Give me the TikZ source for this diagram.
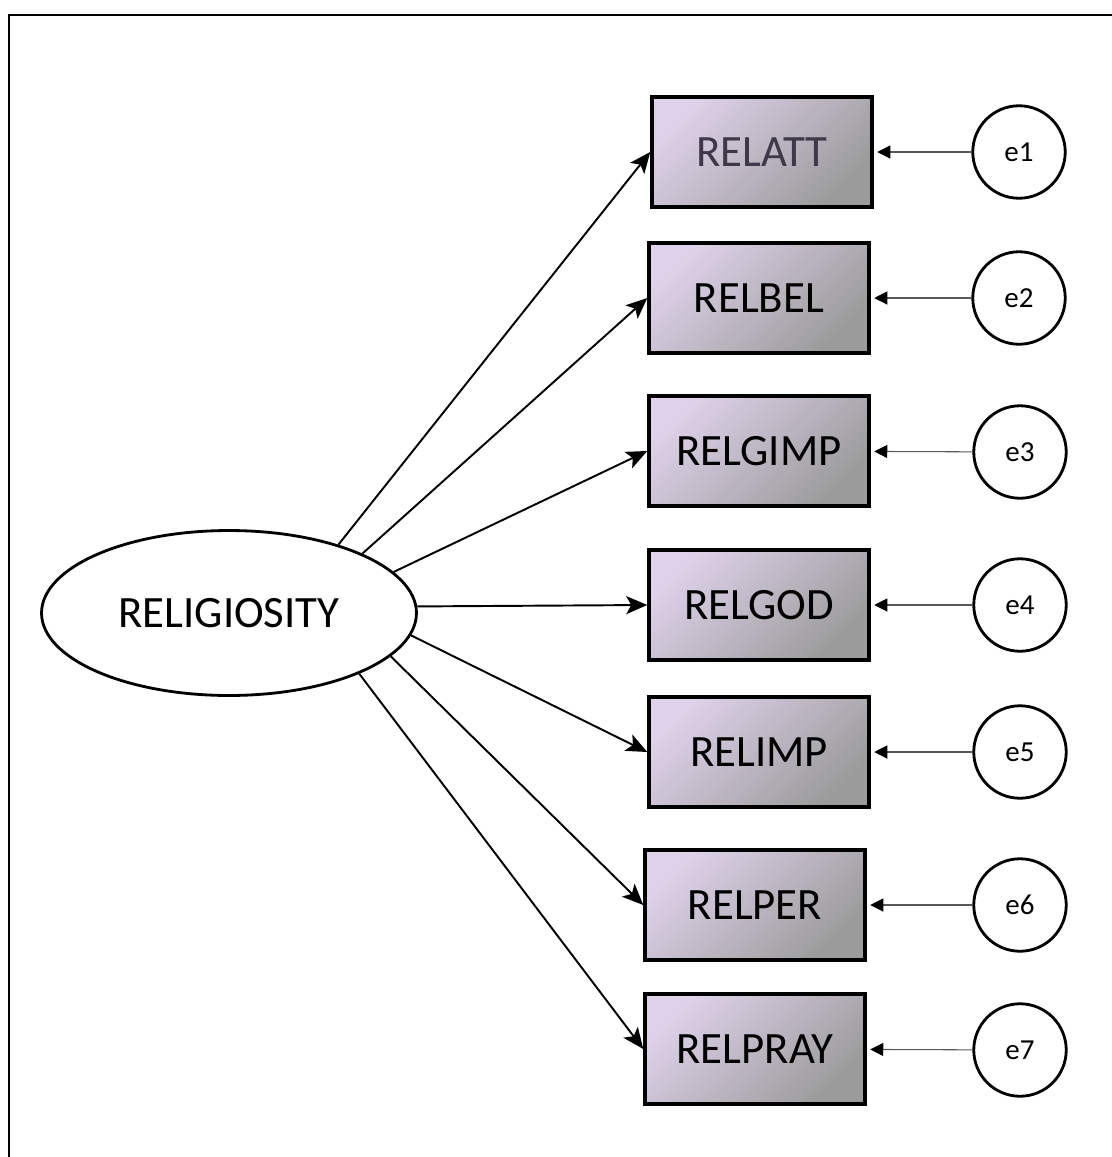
\documentclass[tikz,border=0pt]{standalone}
\usepackage{fontspec}
\setmainfont{Carlito}
\usetikzlibrary{arrows.meta,shapes.geometric}
\definecolor{boxtop}{HTML}{DED1E9}
\definecolor{boxbot}{HTML}{9B9B9B}
\definecolor{attext}{HTML}{3E3848}

\begin{document}
\begin{tikzpicture}[x=0.02cm,y=-0.02cm,
  obs/.style={draw, line width=2pt, minimum width=4.4cm, minimum height=2.2cm,
    inner sep=0pt, top color=boxtop, bottom color=boxbot, shading angle=45,
    font=\fontsize{25.5}{30}\selectfont},
  lat/.style={ellipse, draw, line width=1.6pt, minimum width=7.5cm,
    minimum height=3.3cm, fill=white, font=\fontsize{25.5}{30}\selectfont},
  err/.style={circle, draw, line width=1.6pt, minimum size=1.85cm,
    inner sep=0pt, font=\fontsize{16.5}{20}\selectfont},
  load/.style={line width=1.1pt, -{Stealth[length=0.42cm,width=0.36cm,inset=0.1cm]}},
  eload/.style={line width=0.6pt, draw=black!65,
    -{Triangle[length=0.26cm,width=0.26cm,color=black]}, shorten >=2pt}]

 \useasboundingbox (0,0) rectangle (1112,1157);

 % frame
 \draw[line width=1.2pt] (9,1157) -- (9,15) -- (1112,15);

 % latent variable
 \node[lat] (rel) at (229,613) {RELIGIOSITY};

 % indicators
 \node[obs, text=attext] (att) at (762,152) {RELATT};
 \node[obs] (bel) at (759,298) {RELBEL};
 \node[obs] (gimp) at (759,451) {RELGIMP};
 \node[obs] (god) at (759,605) {RELGOD};
 \node[obs] (imp) at (759,752) {RELIMP};
 \node[obs] (per) at (755,905) {RELPER};
 \node[obs] (pray) at (755,1049) {RELPRAY};

 % errors
 \node[err] (e1) at (1019,152) {e1};
 \node[err] (e2) at (1019,298) {e2};
 \node[err] (e3) at (1020,452) {e3};
 \node[err] (e4) at (1020,605) {e4};
 \node[err] (e5) at (1020,752) {e5};
 \node[err] (e6) at (1020,905) {e6};
 \node[err] (e7) at (1020,1050) {e7};

 % loadings
 \draw[load] (rel.32) -- (att.west);
 \draw[load] (rel.24) -- (bel.west);
 \draw[load] (rel.14) -- (gimp.west);
 \draw[load] (rel.2) -- (god.west);
 \draw[load] (rel.-7) -- (imp.west);
 \draw[load] (rel.-15) -- (per.west);
 \draw[load] (rel.-25) -- (pray.west);

 \draw[eload] (e1) -- (att);
 \draw[eload] (e2) -- (bel);
 \draw[eload] (e3) -- (gimp);
 \draw[eload] (e4) -- (god);
 \draw[eload] (e5) -- (imp);
 \draw[eload] (e6) -- (per);
 \draw[eload] (e7) -- (pray);

\end{tikzpicture}
\end{document}
